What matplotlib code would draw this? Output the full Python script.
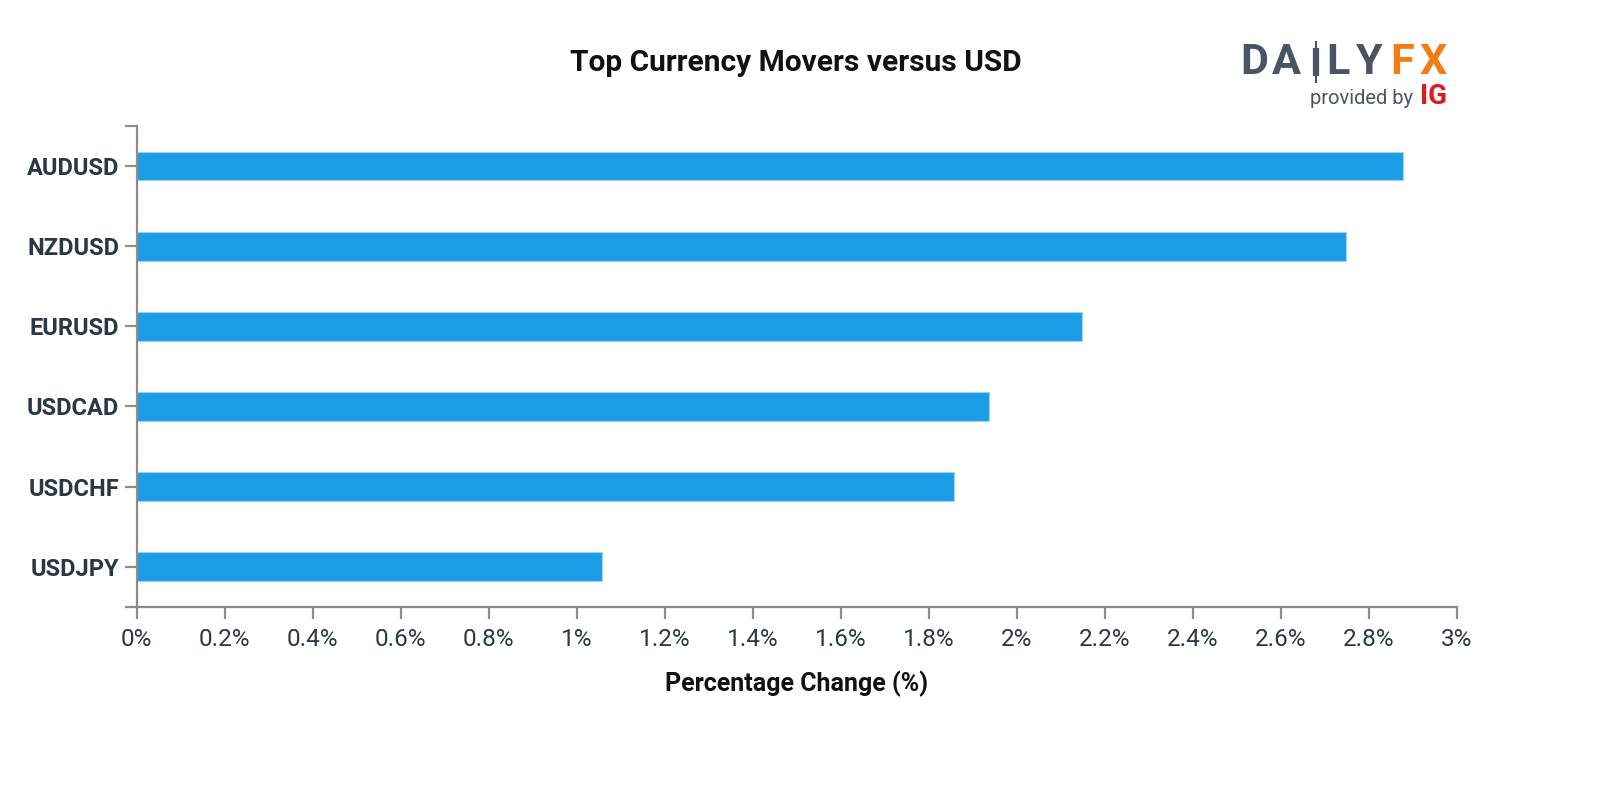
import matplotlib
matplotlib.use('Agg')
import matplotlib.pyplot as plt
import numpy as np

# data
pairs = ['AUDUSD', 'NZDUSD', 'EURUSD', 'USDCAD', 'USDCHF', 'USDJPY']
pct_change = [2.878, 2.748, 2.148, 1.937, 1.858, 1.057]
x_ticks = [0, 0.2, 0.4, 0.6, 0.8, 1.0, 1.2, 1.4, 1.6, 1.8, 2.0, 2.2, 2.4, 2.6, 2.8, 3.0]

plt.rcParams['font.family'] = ['Roboto', 'DejaVu Sans']

BAR = '#1b9de5'
AXIS = '#8c8c8c'
TEXT = '#2b3646'

fig = plt.figure(figsize=(16, 8), dpi=100)
ax = fig.add_axes([0.0854, 0.2416, 0.9106 - 0.0854, 0.8425 - 0.2416])

y = np.arange(len(pairs))
ax.barh(y, pct_change, height=0.36, color=BAR, edgecolor='#9fd3f4', linewidth=0.8)

ax.set_xlim(0, 3)
ax.set_ylim(len(pairs) - 0.5, -0.5)
ax.set_yticks(y)
ax.set_yticklabels(pairs, fontsize=17, fontweight='bold', color=TEXT)
# outer (domain) ticks at the ends of the y axis
ax.set_yticks([-0.5, len(pairs) - 0.5], minor=True)
ax.set_xticks(x_ticks)
ax.set_xticklabels(['{:g}%'.format(t) for t in x_ticks], fontsize=17.5, color=TEXT)

for side in ['top', 'right']:
    ax.spines[side].set_visible(False)
for side in ['left', 'bottom']:
    ax.spines[side].set_color(AXIS)
    ax.spines[side].set_linewidth(1.6)
ax.tick_params(which='both', color=AXIS, width=1.6, length=8.5)
ax.tick_params(axis='y', pad=4)
ax.tick_params(axis='x', pad=7)

ax.set_xlabel('Percentage Change (%)', fontsize=18, fontweight='bold',
              color='#111111', labelpad=14)

fig.text(0.4975, 0.921, 'Top Currency Movers versus USD', ha='center', va='center',
         fontsize=21.5, fontweight='bold', color='#111111')

# DailyFX logo
logo_x = [1254, 1286, 1316, 1338, 1369, 1402, 1433]
for ch, px in zip('DAILYFX', logo_x):
    col = '#f57c14' if ch in 'FX' else '#4b5366'
    if ch == 'I':
        fig.add_artist(plt.Line2D([px / 1600, px / 1600], [1 - 42 / 800, 1 - 82 / 800],
                                  color=col, linewidth=1.5))
        fig.add_artist(plt.Line2D([px / 1600, px / 1600], [1 - 48 / 800, 1 - 76 / 800],
                                  color=col, linewidth=4.5, solid_capstyle='butt'))
        continue
    fig.text(px / 1600, 1 - 62 / 800, ch, ha='center', va='center',
             fontsize=31, fontweight='bold', color=col)
fig.text(1413 / 1600, 1 - 98 / 800, 'provided by', ha='right', va='center',
         fontsize=14.5, color='#4b5366')
fig.text(1420 / 1600, 1 - 97 / 800, 'IG', ha='left', va='center',
         fontsize=20, fontweight='bold', color='#e3171d')

fig.savefig('out.png', dpi=100, facecolor='white')
